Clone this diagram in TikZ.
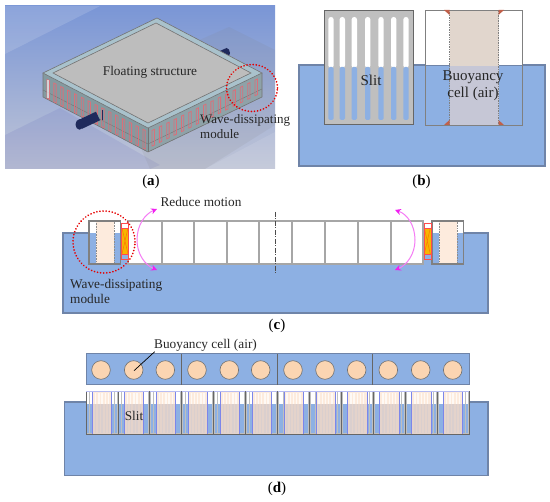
\documentclass[tikz,border=0pt]{standalone}
\usepackage{fontspec}
\setmainfont{Liberation Serif}
\usetikzlibrary{arrows.meta}
\definecolor{water}{HTML}{8DB0E3}
\definecolor{waterline}{HTML}{6F84A8}
\definecolor{hullgray}{HTML}{A6A6A6}
\definecolor{boxgray}{HTML}{808080}
\definecolor{panelgray}{HTML}{BFBFBF}
\definecolor{peach}{HTML}{FDEBDD}
\definecolor{circpeach}{HTML}{FBD5B2}
\definecolor{celltop}{HTML}{E1D6CD}
\definecolor{cellbot}{HTML}{C6C7D6}
\definecolor{cellpink}{HTML}{E4D3CB}
\definecolor{triangle}{HTML}{C0604A}
\definecolor{rim}{HTML}{A9C2CC}
\definecolor{sideface}{HTML}{849AA0}
\definecolor{deck}{HTML}{BDBDBD}
\definecolor{navy}{HTML}{1F2A5C}
\definecolor{slitred}{HTML}{D9707A}
\definecolor{cellblue}{HTML}{7C86EA}
\definecolor{damper}{HTML}{F7B500}
\definecolor{skytop}{HTML}{7A96D6}
\definecolor{skybot}{HTML}{C0C5D6}
\definecolor{swingline}{HTML}{F57CF5}
\definecolor{swingtip}{HTML}{F020F0}
\tikzset{
  x=1pt,y=-1pt,
  lab/.style={font=\fontsize{13.3}{15}\selectfont,text=black!85,inner sep=0pt,align=center},
  biglab/.style={font=\fontsize{15}{17}\selectfont,text=black!85,inner sep=0pt,align=center},
  caption/.style={font=\fontsize{15}{17}\selectfont,inner sep=0pt},
  waterbody/.style={fill=water,draw=waterline,line width=1.1pt},
  hullcell/.style={draw=hullgray,line width=1.5pt,fill=white},
  modbox/.style={draw=boxgray,line width=1.8pt},
  dotcircle/.style={draw=red!90!black,line width=1.8pt,dash pattern=on 0.1pt off 3pt,line cap=round},
  swing/.style={draw=swingline,line width=1pt,-{Stealth[length=6pt,width=6pt,color=swingtip]}},
  facet/.style={draw=black!55,line width=0.6pt},
  sidepipe/.style={draw=navy,line width=9.5pt}
}
\begin{document}
\begin{tikzpicture}
\useasboundingbox (0,0) rectangle (550,502);
% ---------- (a)
\begin{scope}
\clip (5,6) rectangle (275,169);
\shade[top color=skytop, bottom color=skybot] (5,6) rectangle (275,169);
\fill[white,opacity=0.14] (5,6) -- (100,6) -- (5,54) -- cycle;
\fill[black!40!blue,opacity=0.07] (5,135) -- (60,108) -- (160,165) -- (150,169) -- (5,169) -- cycle;
\fill[black!50,opacity=0.12] (195,42) -- (229,27) -- (275,50) -- (275,125) -- (205,169) -- (150,169) -- (120,100) -- cycle;
\fill[white,opacity=0.10] (205,169) -- (275,132) -- (275,169) -- cycle;
\end{scope}
% rear pipe
\draw[sidepipe] (216,58) -- (227,53);
\fill[navy] (226.5,53) ellipse (3.5pt and 5pt);
% block
\fill[sideface] (43,73) -- (148,128) -- (148,152) -- (43,97) -- cycle;
\fill[sideface!92!white] (262,73) -- (148,128) -- (148,152) -- (262,97) -- cycle;
\draw[facet] (43,73) -- (43,97) -- (148,152) -- (262,97) -- (262,73);
\draw[facet] (148,128) -- (148,152);
\draw[draw=black!55,line width=0.4pt] (43,90) -- (148,144) -- (262,89);
\foreach \i in {0,...,14}{
  \pgfmathsetmacro{\xa}{47+\i*6.85}
  \pgfmathsetmacro{\ya}{79.5+\i*3.55}
  \draw[slitred,line width=0.8pt] (\xa,\ya) -- (\xa+2.4,\ya+1.2) -- (\xa+2.4,\ya+20) -- (\xa,\ya+18.8) -- cycle;
  \pgfmathsetmacro{\xb}{152+\i*7.36}
  \pgfmathsetmacro{\yb}{130.5-\i*3.6}
  \draw[slitred,line width=0.8pt] (\xb,\yb) -- (\xb+2.4,\yb-1.1) -- (\xb+2.4,\yb+14.5) -- (\xb,\yb+15.6) -- cycle;
}
\fill[white,opacity=0.6] (47.4,80.5) rectangle (49,98.5);
\draw[facet,fill=rim] (157,18) -- (262,73) -- (148,128) -- (43,73) -- cycle;
\draw[facet,fill=deck] (156,23) -- (251,73) -- (148,123) -- (53,73) -- cycle;
% front pipe
\draw[sidepipe] (98,116) -- (80,124.5);
\fill[navy] (79.5,124.5) ellipse (4pt and 5.2pt);
\fill[navy] (101.5,110) rectangle (103.3,120);
\node[lab] (floatlab) at (150,72.5) {Floating structure};
\draw[dotcircle] (252,88) ellipse (25.5pt and 23.5pt);
\node[lab,align=left,anchor=west,font=\fontsize{13}{15}\selectfont] (wavea) at (200,127) {Wave-dissipating\\module};
\node[caption] (capa) at (151,182) {(\textbf{a})};
% ---------- (b)
\draw[waterbody] (299,65) rectangle (545,166);
\fill[panelgray] (324,11) rectangle (413,125);
\foreach \xx in {331,342.3,354.3,367.7,381,393.7,406}{
  \fill[white,rounded corners=2.6pt] (\xx-2.7,17) rectangle (\xx+2.7,68);
  \fill[water,rounded corners=1.5pt] (\xx-2.7,67) rectangle (\xx+2.7,120);
}
\draw[draw=black!60,line width=1pt] (324,11) rectangle (413,125);
\fill[white] (425,10) rectangle (522.5,65);
\fill[celltop] (449.5,10) rectangle (498.5,66);
\fill[cellbot] (449.5,66) rectangle (498.5,125);
\draw[draw=black!50,line width=0.7pt,densely dotted] (449.5,10) rectangle (498.5,125);
\draw[draw=boxgray,line width=0.9pt] (425,10) rectangle (522.5,125);
\fill[triangle] (444,10) -- (449.5,10) -- (449.5,15) -- cycle;
\fill[triangle] (504,10) -- (498.5,10) -- (498.5,15) -- cycle;
\fill[triangle] (444,125) -- (449.5,125) -- (449.5,120) -- cycle;
\fill[triangle] (504,125) -- (498.5,125) -- (498.5,120) -- cycle;
\node[biglab] (slitb) at (371,80) {Slit};
\node[biglab] (cellb) at (473,85.5) {Buoyancy\\cell (air)};
\node[caption] (capb) at (421.5,181.5) {(\textbf{b})};
% ---------- (c)
\draw[waterbody] (63,233) rectangle (488,313);
\foreach \a/\b in {128/162,162/194,194/227,227/259,259/292,292/325,325/358,358/391,391/423}{
  \draw[hullcell] (\a,221) rectangle (\b,264);
}
\draw[draw=black!70,line width=0.8pt,dash pattern=on 5pt off 1.5pt on 1pt off 1.5pt] (275,212) -- (275,273);
% modules
\foreach \a/\c/\d in {89/96/114,432/439/457}{
  \fill[white] (\a,221) rectangle (\a+31.5,233);
  \fill[water] (\a,233) rectangle (\a+31.5,264);
  \fill[peach] (\c,221) rectangle (\d,263);
  \draw[draw=black!45,line width=0.6pt,densely dotted] (\c,221) rectangle (\d,263);
  \draw[modbox] (\a,221) rectangle (\a+31.5,264);
}
% dampers
\foreach \a in {121.5,423.8}{
  \fill[white] (\a,223) rectangle (\a+7,228);
  \fill[damper] (\a,228) rectangle (\a+7,254);
  \fill[water] (\a,254) rectangle (\a+7,259);
  \draw[orange!60!red,line width=0.5pt,opacity=0.6] (\a+0.5,228) -- (\a+6.5,254) (\a+6.5,228) -- (\a+0.5,254);
  \draw[red!70!white,line width=0.5pt] (\a,223) rectangle (\a+7,259) (\a,228) -- (\a+7,228) (\a,254) -- (\a+7,254);
}
\draw[swing] (137,240) .. controls (137,225) and (145,214) .. (157,209);
\draw[swing] (137,240) .. controls (137,254) and (145,265) .. (157,270);
\draw[swing] (415,240) .. controls (415,225) and (407,214) .. (395,210);
\draw[swing] (415,240) .. controls (415,254) and (407,265) .. (395,270);
\draw[dotcircle] (104,242) circle (31pt);
\node[lab] (reduce) at (201,202) {Reduce motion};
\node[lab,align=left,anchor=west] (wavec) at (70,291.5) {Wave-dissipating\\module};
\node[caption] (capc) at (277,326) {(\textbf{c})};
% ---------- (d)
\fill[water] (86,354) rectangle (469,385);
\draw[draw=waterline,line width=1pt] (86,354) rectangle (469,385);
\foreach \xx in {181.3,277,372.7}{\draw[draw=black!60,line width=0.8pt] (\xx,354) -- (\xx,385);}
\foreach \n/\xx in {c1/101,c2/133.7,c3/165.3,c4/197,c5/229.3,c6/260.7,c7/293,c8/325,c9/356.7,c10/388.3,c11/420.7,c12/452.7}{
  \node[circle,minimum size=18.6pt,inner sep=0pt,fill=circpeach,draw=black!55,line width=0.6pt] (\n) at (\xx,370) {};
}
\draw[waterbody] (64.3,402) rectangle (488,475.7);
\foreach \i in {0,...,11}{
  \begin{scope}[shift={(86+31.92*\i,391)}]
    \fill[panelgray] (0,0) rectangle (31.92,43);
    \foreach \s in {2.4,4.9,27,29.5}{
      \fill[white] (\s-1,1) rectangle (\s+1,13);
      \fill[water] (\s-1,13) rectangle (\s+1,42);
    }
    \fill[peach] (6.4,0) rectangle (25.6,13);
    \foreach \s in {9.6,12.8,16,19.2,22.4}{
      \fill[white!70!peach] (\s-0.7,2) rectangle (\s+0.7,13);
    }
    \fill[cellpink] (6.4,13) rectangle (25.6,43);
    \foreach \s in {9.6,12.8,16,19.2,22.4}{
      \fill[cellbot,opacity=0.3] (\s-0.7,13) rectangle (\s+0.7,42);
    }
    \draw[cellblue,line width=0.6pt] (6.4,0) rectangle (25.6,43);
    \draw[draw=black!60,line width=0.8pt] (0,43) -- (0,0) (31.92,0) -- (31.92,43) -- (0,43);
    \draw[draw=cellblue!55!white,line width=0.7pt] (0,0) -- (31.92,0);
  \end{scope}
}
\node[lab,anchor=west] (buoyd) at (154,345) {Buoyancy cell (air)};
\coordinate (leadend) at (134,370.7);
\draw[draw=black,line width=0.7pt] (154.7,351.7) -- (leadend);
\node[lab] (slitd) at (134,415.7) {Slit};
\node[caption] (capd) at (277,489) {(\textbf{d})};
\end{tikzpicture}
\end{document}
